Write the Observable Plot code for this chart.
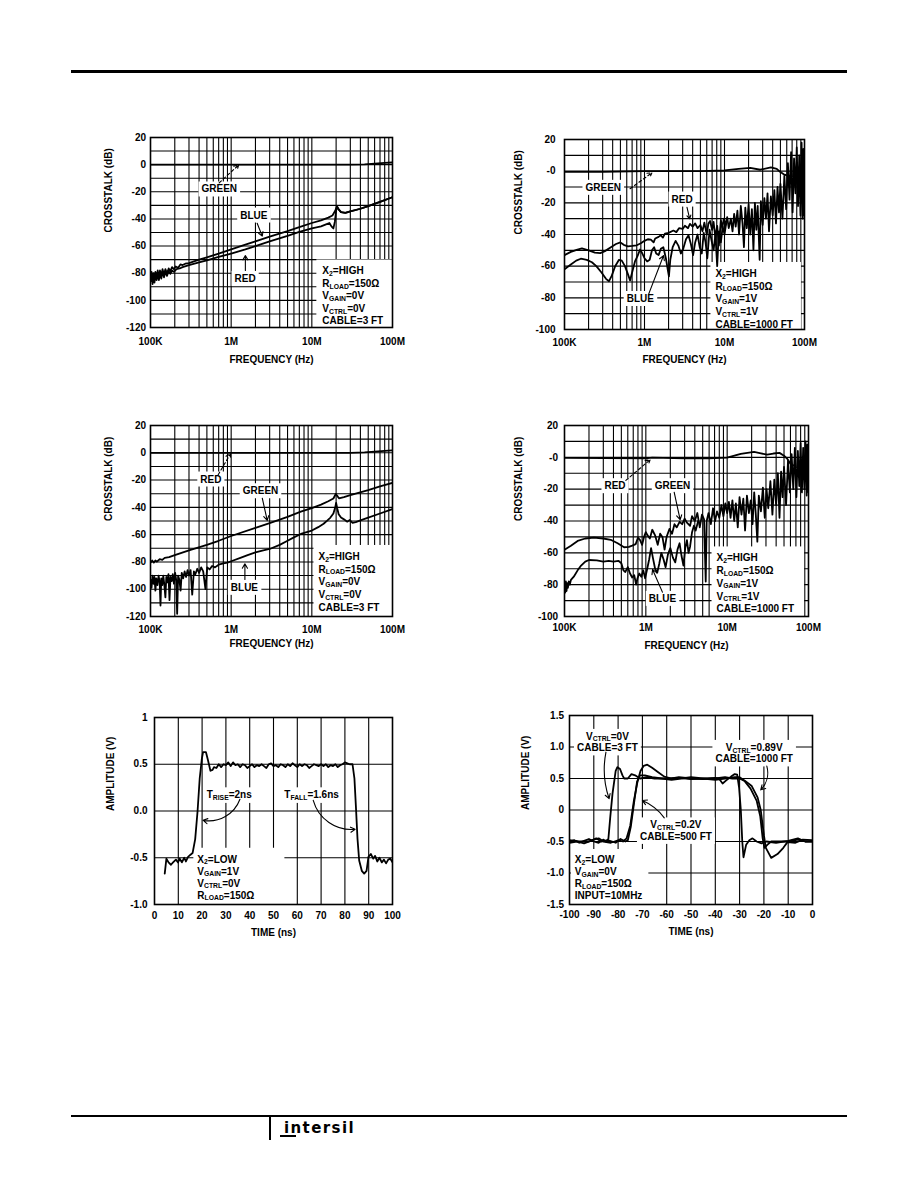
<!DOCTYPE html>
<html><head><meta charset="utf-8">
<script src="https://cdn.jsdelivr.net/npm/d3@7"></script>
<script src="https://cdn.jsdelivr.net/npm/@observablehq/plot@0.6"></script>
<style>
body{margin:0;background:#fff;}
#page{position:relative;width:918px;height:1188px;background:#fff;overflow:hidden;font-family:"Liberation Sans",Arial,sans-serif;}
.hr{position:absolute;background:#000;}
#logo{position:absolute;left:284px;top:1119px;font:bold 15px "DejaVu Sans",sans-serif;letter-spacing:1.4px;color:#000;}
#logobar{position:absolute;left:280px;top:1135px;width:16px;height:2px;background:#000;}
</style></head>
<body><div id="page">
<div class="hr" style="left:71px;top:70px;width:776px;height:3px"></div>
<div class="hr" style="left:71px;top:1115px;width:776px;height:2px"></div>
<div class="hr" style="left:269px;top:1115px;width:2px;height:25px"></div>
<div id="logobar"></div>
<div id="logo">intersil</div>
</div>
<script>
// ---------- shared axis data ----------
const freqTicks = [1e5, 1e6, 1e7, 1e8];
const freqTickLabels = ["100K", "1M", "10M", "100M"];
const freqGrid = [2e5,3e5,4e5,5e5,6e5,7e5,8e5,9e5,1e6,2e6,3e6,4e6,5e6,6e6,7e6,8e6,9e6,1e7,2e7,3e7,4e7,5e7,6e7,7e7,8e7,9e7];
const dbTicksA = [20,0,-20,-40,-60,-80,-100,-120];
const dbTickLabelsA = ["20","0","-20","-40","-60","-80","-100","-120"];
const dbGridA = [10,0,-10,-20,-30,-40,-50,-60,-70,-80,-90,-100,-110];
const dbTicksB = [20,0,-20,-40,-60,-80,-100];
const dbTickLabelsB = ["20","-0","-20","-40","-60","-80","-100"];
const dbGridB = [10,0,-10,-20,-30,-40,-50,-60,-70,-80,-90];

// ---------- chart 1 (CABLE=3 FT, VGAIN=0V) ----------
const c1Green = [[1e5,0],[1e6,0],[1e7,0],[3e7,0],[4.5e7,0.2],[6e7,0.8],[8e7,1.3],[1e8,1.6]];
const c1Blue = [[1e5,-84],[1.03e5,-79],[1.06e5,-86],[1.09e5,-80],[1.12e5,-85],[1.15e5,-79],[1.19e5,-83],[1.23e5,-78],[1.27e5,-84],[1.31e5,-78],[1.36e5,-82],[1.41e5,-77],[1.47e5,-81],[1.53e5,-77],[1.6e5,-80],[1.68e5,-76.5],[1.76e5,-78.5],[1.85e5,-75.5],[1.95e5,-77],[2.05e5,-75],[2.2e5,-76],[2.35e5,-73.5],[2.5e5,-74],[2.7e5,-73],[3e5,-72.5],[4e5,-70],[5e5,-68.3],[7e5,-65.5],[1e6,-62.5],[1.5e6,-59],[2e6,-56.5],[3e6,-53],[5e6,-49],[7e6,-46],[1e7,-43],[1.3e7,-41],[1.6e7,-39],[1.8e7,-37.5],[1.95e7,-34],[2.05e7,-30.5],[2.15e7,-33],[2.3e7,-35],[2.6e7,-35.5],[3e7,-34.5],[4e7,-32.5],[5e7,-30.5],[7e7,-27.5],[1e8,-24]];
const c1Red = [[1e5,-86],[1.03e5,-81],[1.06e5,-88],[1.09e5,-82],[1.12e5,-87],[1.15e5,-81],[1.19e5,-85],[1.23e5,-80],[1.27e5,-85],[1.31e5,-80],[1.36e5,-84],[1.41e5,-79],[1.47e5,-83],[1.53e5,-79],[1.6e5,-82],[1.68e5,-78.5],[1.76e5,-80.5],[1.85e5,-78],[1.95e5,-79],[2.1e5,-77],[2.3e5,-76.5],[2.5e5,-75.5],[3e5,-74],[4e5,-72],[5e5,-70.5],[7e5,-68],[1e6,-65.5],[1.5e6,-62.5],[2e6,-60],[3e6,-56.5],[5e6,-52.5],[7e6,-49.5],[1e7,-47],[1.3e7,-45.5],[1.5e7,-44],[1.65e7,-43],[1.75e7,-45.5],[1.85e7,-47],[1.93e7,-42],[2e7,-34],[2.05e7,-31],[2.15e7,-33],[2.3e7,-35],[2.6e7,-35.5],[3e7,-34.5],[4e7,-32.5],[5e7,-30.5],[7e7,-27.5],[1e8,-24]];
const c1Notes = [{x:7.13e5,y:-17.8,t:"GREEN"},{x:1.91e6,y:-37,t:"BLUE"},{x:1.49e6,y:-83.7,t:"RED"}];
const c1Legend = [{x:1.35e7,y:-96.4,t:"X_{2}=HIGH\nR_{LOAD}=150Ω\nV_{GAIN}=0V\nV_{CTRL}=0V\nCABLE=3 FT"}];
const c1Arrows = [{x1:7.1e5,y1:-13.4,x2:1.24e6,y2:-0.3},{x1:2.1e6,y1:-43.2,x2:2.43e6,y2:-52.7},{x1:1.5e6,y1:-78,x2:1.5e6,y2:-67}];

// ---------- chart 2 (CABLE=1000 FT, VGAIN=1V) ----------
const c2Green = [[1e5,-0.5],[3e5,-0.5],[1e6,0],[5e6,0],[1e7,0.5],[1.5e7,1.5],[2.1e7,2.1],[2.8e7,0.9],[3.8e7,2.4],[4.5e7,1.5],[5e7,-0.6],[5.5e7,-2],[6e7,-2.7],[6.5e7,-3]];
const c2Red = [[1e5,-53],[1.2e5,-51],[1.45e5,-49.5],[1.65e5,-48.8],[2e5,-50],[2.4e5,-51.5],[2.8e5,-51.8],[3.2e5,-50.5],[3.8e5,-48],[4.4e5,-46],[5e5,-45],[5.5e5,-46.5],[6.2e5,-47.5],[7e5,-47.2],[8e5,-46.8],[9e5,-45.5],[1e6,-44],[1.1e6,-43],[1.2e6,-43.2],[1.3e6,-45],[1.36e6,-42.5],[1.5e6,-41.5],[1.6e6,-40.5],[1.7e6,-42],[1.8e6,-39.5],[2e6,-39],[2.3e6,-37.5],[2.5e6,-38.5],[2.7e6,-36],[3e6,-36.5],[3.2e6,-34.5],[3.5e6,-36],[3.7e6,-33.3],[4e6,-35],[4.3e6,-33],[4.6e6,-36],[5e6,-34],[5.3e6,-38],[5.6e6,-32.5],[6e6,-40],[6.3e6,-33],[6.6e6,-31.5],[7e6,-37],[7.3e6,-32],[7.7e6,-42],[8.1e6,-34.5],[8.5e6,-47],[9e6,-31],[9.4e6,-36],[9.8e6,-30],[1.03e7,-34],[1.08e7,-29],[1.13e7,-36],[1.2e7,-30],[1.26e7,-38],[1.32e7,-27],[1.38e7,-35],[1.45e7,-25],[1.52e7,-40],[1.6e7,-22],[1.68e7,-33],[1.75e7,-48],[1.82e7,-23],[1.9e7,-36],[2e7,-21],[2.1e7,-40],[2.2e7,-24],[2.3e7,-50],[2.4e7,-20],[2.5e7,-37],[2.6e7,-22],[2.75e7,-56],[2.85e7,-19],[3e7,-34],[3.15e7,-17],[3.3e7,-30],[3.45e7,-14],[3.6e7,-38],[3.8e7,-16],[4e7,-28],[4.2e7,-12],[4.4e7,-33],[4.6e7,-10],[4.8e7,-26],[5e7,-8],[5.3e7,-30],[5.6e7,-3],[5.9e7,-24],[6.2e7,5],[6.5e7,-18],[6.8e7,12],[7.1e7,-26],[7.4e7,8],[7.7e7,-14],[8e7,15],[8.3e7,-22],[8.6e7,10],[8.9e7,-28],[9.2e7,18],[9.5e7,-30],[9.7e7,14],[1e8,-28]];
const c2Blue = [[1e5,-62],[1.2e5,-59],[1.4e5,-56.5],[1.6e5,-55.3],[1.9e5,-56],[2.2e5,-57.5],[2.5e5,-60],[2.9e5,-64],[3.3e5,-68],[3.6e5,-69.5],[3.9e5,-66],[4.3e5,-60],[4.8e5,-56],[5.2e5,-56.5],[5.7e5,-60],[6.2e5,-65],[6.6e5,-69],[7e5,-64],[7.6e5,-57],[8.2e5,-53.5],[8.8e5,-49.5],[9.4e5,-52],[1e6,-55],[1.08e6,-57],[1.16e6,-56],[1.24e6,-50],[1.32e6,-48],[1.4e6,-52],[1.5e6,-53],[1.6e6,-49],[1.72e6,-48],[1.85e6,-55],[1.95e6,-62],[2.02e6,-66.5],[2.1e6,-56],[2.25e6,-48],[2.45e6,-44],[2.65e6,-47],[2.85e6,-52],[3.05e6,-49],[3.3e6,-43],[3.55e6,-40.5],[3.8e6,-46],[4.05e6,-53],[4.3e6,-45],[4.6e6,-40],[4.9e6,-48],[5.2e6,-52],[5.5e6,-39],[5.8e6,-45],[6.1e6,-55],[6.5e6,-37],[6.9e6,-44],[7.3e6,-50],[7.7e6,-40],[8.1e6,-60],[8.5e6,-38],[9e6,-45],[9.5e6,-35],[1e7,-40],[1.05e7,-33]];
const c2Notes = [{x:3.05e5,y:-10.1,t:"GREEN"},{x:2.95e6,y:-17.5,t:"RED"},{x:8.86e5,y:-80.3,t:"BLUE"}];
const c2Legend = [{x:7.7e6,y:-80.3,t:"X_{2}=HIGH\nR_{LOAD}=150Ω\nV_{GAIN}=1V\nV_{CTRL}=1V\nCABLE=1000 FT"}];
const c2Arrows = [{x1:6.6e5,y1:-11.1,x2:1.24e6,y2:-1},{x1:3.4e6,y1:-22.8,x2:3.67e6,y2:-30.1},{x1:1.13e6,y1:-77.5,x2:1.73e6,y2:-53.3}];

// ---------- chart 3 (CABLE=3 FT, VGAIN=0V) ----------
const c3Red = [[1e5,0],[1e6,0],[1e7,0],[3e7,0],[4.5e7,0.3],[6e7,0.9],[8e7,1.4],[1e8,1.8]];
const c3Green = [[1e5,-80.5],[1.05e5,-79],[1.1e5,-80.5],[1.15e5,-79],[1.2e5,-79.8],[1.3e5,-78],[1.4e5,-78.5],[1.5e5,-77],[1.7e5,-76.5],[2e5,-75],[3e5,-71.5],[5e5,-67.5],[7e5,-64.5],[1e6,-61],[2e6,-55],[3e6,-51.5],[5e6,-47],[7.3e6,-43.1],[1e7,-40.5],[1.3e7,-38],[1.6e7,-35.5],[1.85e7,-33.5],[1.98e7,-30.2],[2.08e7,-31.8],[2.17e7,-33.4],[2.5e7,-32.5],[3e7,-31],[5e7,-27.3],[7e7,-24.6],[1e8,-22]];
const c3Blue = [[1e5,-93],[1.03e5,-99],[1.06e5,-90],[1.09e5,-96],[1.12e5,-91],[1.15e5,-101],[1.18e5,-92],[1.22e5,-97],[1.26e5,-90],[1.3e5,-95],[1.33e5,-112],[1.36e5,-92],[1.4e5,-97],[1.44e5,-90],[1.48e5,-96],[1.53e5,-106],[1.57e5,-91],[1.62e5,-95],[1.67e5,-89],[1.72e5,-108],[1.77e5,-91],[1.83e5,-94],[1.89e5,-89],[1.95e5,-96],[2.02e5,-88],[2.08e5,-93],[2.14e5,-118],[2.2e5,-90],[2.28e5,-93],[2.36e5,-101],[2.44e5,-88],[2.54e5,-92],[2.65e5,-87],[2.76e5,-91],[2.88e5,-86],[3e5,-90],[3.14e5,-86],[3.29e5,-104],[3.45e5,-87],[3.6e5,-89],[3.8e5,-85],[4e5,-88],[4.25e5,-84],[4.5e5,-87],[4.8e5,-100],[5.05e5,-84],[5.4e5,-85.5],[5.8e5,-83],[6.3e5,-84],[7e5,-82],[8e5,-81],[9e5,-80.5],[1e6,-79.5],[1.3e6,-77],[1.6e6,-75],[2e6,-73],[2.5e6,-71.5],[3e6,-70.5],[4e6,-67.5],[5e6,-64.5],[6e6,-62],[7.3e6,-59.5],[1e7,-57],[1.2e7,-54.5],[1.4e7,-52],[1.55e7,-49.7],[1.7e7,-47.5],[1.85e7,-44.5],[1.95e7,-40],[2e7,-36.8],[2.07e7,-41],[2.15e7,-45],[2.3e7,-47.5],[2.5e7,-48.8],[2.75e7,-50.5],[2.95e7,-49.3],[3.2e7,-51.4],[3.5e7,-50.8],[4e7,-49.5],[5e7,-47.5],[7e7,-44.5],[1e8,-41.2]];
const c3Notes = [{x:5.6e5,y:-19.1,t:"RED"},{x:2.31e6,y:-27.7,t:"GREEN"},{x:1.46e6,y:-98.5,t:"BLUE"}];
const c3Legend = [{x:1.21e7,y:-94.2,t:"X_{2}=HIGH\nR_{LOAD}=150Ω\nV_{GAIN}=0V\nV_{CTRL}=0V\nCABLE=3 FT"}];
const c3Arrows = [{x1:6.9e5,y1:-16.1,x2:9.8e5,y2:-0.7},{x1:2.43e6,y1:-33.3,x2:2.8e6,y2:-49.6},{x1:1.48e6,y1:-92.9,x2:1.48e6,y2:-81.4}];

// ---------- chart 4 (CABLE=1000 FT, VGAIN=1V) ----------
const c4Red = [[1e5,-0.3],[3e5,-0.5],[1e6,-0.6],[1.2e6,-0.2],[3e6,-0.6],[6e6,-0.6],[1e7,-0.2],[1.47e7,2.2],[2.14e7,3.4],[2.6e7,2.5],[3.1e7,1.7],[3.7e7,2.4],[4.4e7,2.8],[5e7,1],[5.5e7,-1],[6e7,-4],[6.5e7,-5]];
const c4Green = [[1e5,-58],[1.2e5,-55.5],[1.45e5,-52.5],[1.8e5,-51],[2.3e5,-50.5],[3e5,-51],[3.7e5,-51.8],[4.5e5,-54],[5.4e5,-56.5],[6.2e5,-56.3],[6.8e5,-55.5],[7.5e5,-54.5],[8e5,-50.5],[8.5e5,-52],[9e5,-55],[9.5e5,-50],[1e6,-47],[1.05e6,-49],[1.12e6,-51],[1.2e6,-45.5],[1.3e6,-49],[1.4e6,-55],[1.5e6,-48],[1.6e6,-50],[1.7e6,-58],[1.8e6,-50],[1.95e6,-45],[2.1e6,-48],[2.25e6,-42],[2.4e6,-44],[2.6e6,-40.5],[2.8e6,-42],[3e6,-38.5],[3.2e6,-41],[3.5e6,-43],[3.7e6,-37],[4e6,-40],[4.3e6,-35],[4.6e6,-44],[4.9e6,-36],[5.2e6,-39],[5.45e6,-78],[5.6e6,-40],[5.9e6,-35],[6.3e6,-42],[6.7e6,-32],[7.1e6,-40],[7.5e6,-34],[8e6,-38],[8.5e6,-30],[9e6,-37],[9.5e6,-29],[1e7,-35],[1.05e7,-28],[1.1e7,-38],[1.16e7,-27],[1.22e7,-40],[1.28e7,-29],[1.35e7,-44],[1.42e7,-25],[1.5e7,-36],[1.58e7,-26],[1.66e7,-46],[1.75e7,-24],[1.85e7,-35],[1.95e7,-27],[2.05e7,-42],[2.15e7,-22],[2.25e7,-36],[2.35e7,-53],[2.45e7,-24],[2.6e7,-34],[2.75e7,-19],[2.9e7,-38],[3.05e7,-20],[3.2e7,-32],[3.4e7,-15],[3.6e7,-36],[3.8e7,-14],[4e7,-30],[4.2e7,-10],[4.4e7,-38],[4.6e7,-9],[4.8e7,-25],[5e7,-6],[5.3e7,-30],[5.6e7,-2],[5.9e7,-22],[6.2e7,2],[6.5e7,-20],[6.8e7,6],[7.1e7,-25],[7.4e7,4],[7.7e7,-18],[8e7,9],[8.3e7,-22],[8.6e7,6],[8.9e7,-20],[9.2e7,10],[9.5e7,-24],[9.7e7,8],[1e8,-22]];
const c4Blue = [[1e5,-80],[1.02e5,-85],[1.04e5,-78],[1.06e5,-84],[1.08e5,-79],[1.1e5,-82],[1.13e5,-78],[1.16e5,-80],[1.2e5,-77],[1.3e5,-75],[1.45e5,-71],[1.6e5,-68],[1.8e5,-65.5],[2e5,-64.5],[2.5e5,-64.8],[3e5,-65.5],[3.5e5,-65],[4e5,-65.5],[4.6e5,-65],[5e5,-66.5],[5.3e5,-71],[5.6e5,-72],[6e5,-69],[6.4e5,-73],[6.8e5,-75.5],[7.2e5,-74],[7.6e5,-80],[7.9e5,-76],[8.3e5,-73],[8.8e5,-75],[9.3e5,-71],[9.8e5,-76],[1.04e6,-70],[1.1e6,-64],[1.16e6,-57],[1.22e6,-63],[1.3e6,-70],[1.38e6,-72.5],[1.46e6,-67],[1.55e6,-60],[1.65e6,-64],[1.75e6,-69],[1.87e6,-61],[2e6,-57],[2.15e6,-63],[2.3e6,-66],[2.45e6,-58],[2.6e6,-54],[2.75e6,-62],[2.9e6,-68],[3.05e6,-57],[3.2e6,-52],[3.35e6,-60],[3.5e6,-56],[3.7e6,-47],[3.9e6,-43],[4.1e6,-46],[4.4e6,-40]];
const c4Notes = [{x:4.18e5,y:-17.7,t:"RED"},{x:2.13e6,y:-17.7,t:"GREEN"},{x:1.6e6,y:-88.5,t:"BLUE"}];
const c4Legend = [{x:7.4e6,y:-78.8,t:"X_{2}=HIGH\nR_{LOAD}=150Ω\nV_{GAIN}=1V\nV_{CTRL}=1V\nCABLE=1000 FT"}];
const c4Arrows = [{x1:5.68e5,y1:-14.5,x2:1.13e6,y2:-1.5},{x1:2.23e6,y1:-21.9,x2:2.64e6,y2:-39.2},{x1:1.6e6,y1:-84.7,x2:1.21e6,y2:-70.5}];

// ---------- chart 5 (pulse, 0..100 ns) ----------
const c5TimeTicks = [0,10,20,30,40,50,60,70,80,90,100];
const c5TimeLabels = ["0","10","20","30","40","50","60","70","80","90","100"];
const c5GridX = [10,20,30,40,50,60,70,80,90];
const c5AmpTicks = [1,0.5,0,-0.5,-1];
const c5AmpLabels = ["1","0.5","0.0","-0.5","-1.0"];
const c5GridY = [0.5,0,-0.5];
const c5Wave = [[4.3,-0.67],[5,-0.51],[5.9,-0.55],[6.9,-0.575],[7.8,-0.55],[9,-0.52],[9.9,-0.55],[10.6,-0.51],[11.5,-0.55],[12.5,-0.5],[13.2,-0.54],[14.1,-0.49],[15,-0.47],[16,-0.45],[17.1,-0.3],[18.1,0],[19,0.35],[19.9,0.56],[20.4,0.63],[21.6,0.63],[22.5,0.54],[23.5,0.43],[24.4,0.44],[25,0.47],[26,0.46],[27,0.5],[28,0.47],[29,0.5],[30,0.49],[31,0.52],[32,0.48],[33,0.52],[34,0.49],[35,0.5],[36,0.47],[37,0.5],[38,0.49],[39,0.46],[40,0.48],[41,0.5],[42,0.47],[43,0.49],[44,0.48],[45,0.5],[46,0.48],[47,0.46],[48,0.5],[49,0.51],[50,0.48],[51,0.49],[52,0.47],[53,0.5],[54,0.49],[55,0.47],[56,0.5],[57,0.48],[58,0.51],[59,0.49],[60,0.47],[61,0.5],[62,0.48],[63,0.5],[64,0.49],[65,0.46],[66,0.48],[67,0.5],[68,0.49],[69,0.48],[70,0.5],[71,0.48],[72,0.5],[73,0.47],[74,0.49],[75,0.48],[76,0.5],[77,0.47],[78,0.49],[79,0.5],[80,0.52],[81,0.51],[82,0.5],[83.2,0.5],[84,0.35],[84.6,0.06],[85.3,-0.3],[86,-0.53],[87.1,-0.64],[88.1,-0.67],[89.1,-0.64],[89.9,-0.49],[90.9,-0.46],[91.9,-0.51],[92.7,-0.48],[93.6,-0.54],[94.5,-0.5],[95.5,-0.55],[96.4,-0.52],[97.3,-0.56],[98.2,-0.52],[99.1,-0.51],[100,-0.55]];
const c5Notes = [{x:31.4,y:0.175,t:"T_{RISE}=2ns"},{x:66,y:0.175,t:"T_{FALL}=1.6ns"}];
const c5Legend = [{x:18,y:-0.705,t:"X_{2}=LOW\nV_{GAIN}=1V\nV_{CTRL}=0V\nR_{LOAD}=150Ω"}];
const c5Arrows = [{x1:35.9,y1:0.125,x2:20.4,y2:-0.1},{x1:66.7,y1:0.114,x2:84.3,y2:-0.196}];

// ---------- chart 6 (pulse, -100..0 ns) ----------
const c6TimeTicks = [-100,-90,-80,-70,-60,-50,-40,-30,-20,-10,0];
const c6TimeLabels = ["-100","-90","-80","-70","-60","-50","-40","-30","-20","-10","0"];
const c6GridX = [-90,-80,-70,-60,-50,-40,-30,-20,-10];
const c6AmpTicks = [1.5,1,0.5,0,-0.5,-1,-1.5];
const c6AmpLabels = ["1.5","1.0","0.5","0","-0.5","-1.0","-1.5"];
const c6GridY = [1,0.5,0,-0.5,-1];
const c6Cable3 = [[-100,-0.5],[-98,-0.48],[-96,-0.52],[-94,-0.49],[-92,-0.46],[-90,-0.5],[-88,-0.52],[-86,-0.47],[-85,-0.5],[-84,-0.46],[-83.2,-0.1],[-82.3,0.26],[-81,0.62],[-80.3,0.68],[-79.2,0.65],[-78.2,0.55],[-77.5,0.5],[-76,0.5],[-74.5,0.57],[-73,0.55],[-71,0.5],[-68,0.52],[-65,0.5],[-60,0.5],[-55,0.51],[-50,0.49],[-45,0.5],[-40,0.51],[-38.5,0.5],[-37,0.42],[-35.5,0.47],[-33.5,0.53],[-32,0.57],[-31,0.56],[-30.2,0.35],[-29.5,0],[-28.9,-0.5],[-28.4,-0.75],[-27.3,-0.55],[-26,-0.48],[-24.7,-0.45],[-23,-0.5],[-21,-0.53],[-19,-0.5],[-15,-0.52],[-10,-0.49],[-6,-0.45],[-3,-0.5],[0,-0.5]];
const c6Cable500 = [[-100,-0.52],[-97,-0.5],[-94,-0.53],[-90,-0.47],[-88,-0.45],[-86,-0.5],[-83,-0.52],[-80,-0.48],[-78,-0.5],[-76.5,-0.45],[-75,-0.25],[-73.5,0.15],[-72,0.45],[-70.8,0.62],[-69.5,0.7],[-68,0.72],[-66,0.67],[-63.5,0.6],[-61,0.53],[-58,0.5],[-55,0.52],[-50,0.5],[-45,0.49],[-40,0.5],[-36,0.52],[-33,0.5],[-30,0.5],[-28,0.46],[-25.5,0.34],[-23,0.15],[-21.5,-0.1],[-20.5,-0.45],[-19.8,-0.6],[-18.5,-0.55],[-17,-0.5],[-14,-0.5],[-10,-0.5],[-6,-0.47],[-3,-0.5],[0,-0.5]];
const c6Cable1000 = [[-100,-0.48],[-96,-0.5],[-92,-0.5],[-89,-0.45],[-87,-0.5],[-84,-0.48],[-81,-0.52],[-79,-0.46],[-77,-0.5],[-76,-0.48],[-74.8,-0.27],[-73.4,0.12],[-72.2,0.45],[-71,0.55],[-69,0.55],[-66,0.52],[-62,0.5],[-58,0.48],[-54,0.5],[-50,0.52],[-45,0.5],[-40,0.48],[-36,0.5],[-32,0.52],[-30,0.52],[-28,0.47],[-25,0.38],[-22.6,0.2],[-21.3,0],[-20,-0.4],[-19.2,-0.6],[-17,-0.76],[-14.4,-0.7],[-12,-0.6],[-10.3,-0.51],[-7,-0.52],[-4,-0.47],[0,-0.48]];
const c6Notes = [{x:-84.4,y:1.08,t:"V_{CTRL}=0V\nCABLE=3 FT"},{x:-24,y:0.905,t:"V_{CTRL}=0.89V\nCABLE=1000 FT"},{x:-56.2,y:-0.325,t:"V_{CTRL}=0.2V\nCABLE=500 FT"}];
const c6Legend = [{x:-97.8,y:-1.066,t:"X_{2}=LOW\nV_{GAIN}=0V\nR_{LOAD}=150Ω\nINPUT=10MHz"}];
const c6Arrows = [{x1:-85,y1:0.918,x2:-83.7,y2:0.18},{x1:-18.8,y1:0.696,x2:-21.3,y2:0.32},{x1:-61,y1:-0.124,x2:-70,y2:0.15}];

// ---------- rendering ----------
const NS = "http://www.w3.org/2000/svg";
const page = document.getElementById("page");
const FONT = "'Liberation Sans', Arial, Helvetica, sans-serif";

function labeler(ticks, labels) {
  return d => { const i = ticks.indexOf(d); return i < 0 ? "" : labels[i]; };
}

function postProcess(svg, boxPad) {
  // subscripts written as _{...}
  svg.querySelectorAll("text, tspan").forEach(el => {
    Array.from(el.childNodes).forEach(node => {
      if (node.nodeType !== 3 || !node.data.includes("_{")) return;
      const parts = node.data.split(/(_\{[^}]*\})/);
      const frag = document.createDocumentFragment();
      let sub = false;
      for (const p of parts) {
        if (!p) continue;
        const ts = document.createElementNS(NS, "tspan");
        if (p.startsWith("_{")) {
          ts.textContent = p.slice(2, -1);
          ts.style.fontSize = "0.68em";
          ts.setAttribute("dy", "1.6");
          sub = true;
        } else {
          ts.textContent = p;
          if (sub) { ts.setAttribute("dy", "-1.6"); sub = false; }
        }
        frag.appendChild(ts);
      }
      el.replaceChild(frag, node);
    });
  });
  // white boxes behind annotation text
  const pads = {note: {l: 3, r: 3, t: 2, b: 2}, box: boxPad};
  Object.keys(pads).forEach(label => {
    const p = pads[label];
    svg.querySelectorAll(`g[aria-description="${label}"] text`).forEach(t => {
      if (t.parentNode.tagName.toLowerCase() !== "g") return;
      const b = t.getBBox();
      const r = document.createElementNS(NS, "rect");
      r.setAttribute("x", b.x - p.l);
      r.setAttribute("y", b.y - p.t);
      r.setAttribute("width", b.width + p.l + p.r);
      r.setAttribute("height", b.height + p.t + p.b);
      r.setAttribute("fill", "#fff");
      r.setAttribute("stroke", "none");
      const tr = t.getAttribute("transform");
      if (tr) r.setAttribute("transform", tr);
      t.parentNode.insertBefore(r, t);
    });
  });
}

function drawChart(cfg) {
  const {L, T, R, B} = cfg.frame;
  const mL = 70, mT = 15, mR = 20, mB = 50;
  const width = R - L + mL + mR, height = B - T + mT + mB;
  const line = s => Plot.line(s, {x: d => d[0], y: d => d[1], stroke: "#000", strokeWidth: 1.8, strokeLinejoin: "round", clip: true});
  const arrow = a => {
    const o = {x1: "x1", y1: "y1", x2: "x2", y2: "y2", stroke: "#000", strokeWidth: 1.1, headLength: 7, bend: a.bend || 0};
    if (a.dash) o.strokeDasharray = "3,2.5";
    return Plot.arrow([a.d], o);
  };
  const svg = Plot.plot({
    width, height,
    marginLeft: mL, marginTop: mT, marginRight: mR, marginBottom: mB,
    style: {fontFamily: FONT, fontSize: "10px", fontWeight: "bold", color: "#000", background: "transparent", overflow: "visible"},
    x: Object.assign({}, cfg.x, {tickSize: 0, tickPadding: cfg.padX, label: null, tickFormat: labeler(cfg.x.ticks, cfg.xLabels)}),
    y: Object.assign({}, cfg.y, {tickSize: 0, tickPadding: cfg.padY, label: null, tickFormat: labeler(cfg.y.ticks, cfg.yLabels)}),
    marks: [
      Plot.ruleX(cfg.gridX, {stroke: "#000", strokeWidth: 1.1}),
      Plot.ruleY(cfg.gridY, {stroke: "#000", strokeWidth: 1.1}),
      Plot.text(cfg.notes, {x: "x", y: "y", text: "t", lineHeight: 1.15, ariaDescription: "note"}),
      Plot.text(cfg.legend, {x: "x", y: "y", text: "t", textAnchor: "start", lineHeight: cfg.legendLH, ariaDescription: "box"}),
      ...cfg.series.map(line),
      ...cfg.arrows.map(arrow),
      Plot.frame({stroke: "#000", strokeWidth: 1.6}),
      Plot.text([cfg.xTitle], {text: d => d, frameAnchor: "bottom", dy: cfg.xTitleDy}),
      Plot.text([cfg.yTitle], {text: d => d, frameAnchor: "left", dx: cfg.yTitleDx, rotate: -90})
    ]
  });
  svg.style.position = "absolute";
  svg.style.left = (L - mL) + "px";
  svg.style.top = (T - mT) + "px";
  page.appendChild(svg);
  postProcess(svg, cfg.boxPad);
}

const logX = {type: "log", domain: [1e5, 1e8], ticks: freqTicks};

drawChart({frame: {L:150, T:137, R:392, B:327}, x: logX, xLabels: freqTickLabels,
  y: {domain: [-120, 20], ticks: dbTicksA}, yLabels: dbTickLabelsA, gridX: freqGrid, gridY: dbGridA,
  padX: 10, padY: 4.5, series: [c1Green, c1Blue, c1Red], notes: c1Notes, legend: c1Legend, legendLH: 1.25,
  boxPad: {l: 6, r: 14, t: 6, b: 4},
  arrows: [{d: c1Arrows[0], dash: true}, {d: c1Arrows[1]}, {d: c1Arrows[2]}],
  xTitle: "FREQUENCY (Hz)", xTitleDy: 35, yTitle: "CROSSTALK (dB)", yTitleDx: -42});

drawChart({frame: {L:564, T:139, R:804, B:329}, x: logX, xLabels: freqTickLabels,
  y: {domain: [-100, 20], ticks: dbTicksB}, yLabels: dbTickLabelsB, gridX: freqGrid, gridY: dbGridB,
  padX: 9, padY: 9, series: [c2Green, c2Red, c2Blue], notes: c2Notes, legend: c2Legend, legendLH: 1.27,
  boxPad: {l: 5, r: 8, t: 6, b: 4},
  arrows: [{d: c2Arrows[0], dash: true}, {d: c2Arrows[1]}, {d: c2Arrows[2]}],
  xTitle: "FREQUENCY (Hz)", xTitleDy: 33, yTitle: "CROSSTALK (dB)", yTitleDx: -46});

drawChart({frame: {L:150, T:425, R:392, B:616}, x: logX, xLabels: freqTickLabels,
  y: {domain: [-120, 20], ticks: dbTicksA}, yLabels: dbTickLabelsA, gridX: freqGrid, gridY: dbGridA,
  padX: 9, padY: 4.5, series: [c3Red, c3Green, c3Blue], notes: c3Notes, legend: c3Legend, legendLH: 1.27,
  boxPad: {l: 5, r: 14, t: 6, b: 4},
  arrows: [{d: c3Arrows[0], dash: true}, {d: c3Arrows[1]}, {d: c3Arrows[2]}],
  xTitle: "FREQUENCY (Hz)", xTitleDy: 30, yTitle: "CROSSTALK (dB)", yTitleDx: -42});

drawChart({frame: {L:564, T:425, R:808, B:616}, x: logX, xLabels: freqTickLabels,
  y: {domain: [-100, 20], ticks: dbTicksB}, yLabels: dbTickLabelsB, gridX: freqGrid, gridY: dbGridB,
  padX: 7, padY: 6.5, series: [c4Red, c4Green, c4Blue], notes: c4Notes, legend: c4Legend, legendLH: 1.27,
  boxPad: {l: 5, r: 10, t: 6, b: 4},
  arrows: [{d: c4Arrows[0], dash: true}, {d: c4Arrows[1]}, {d: c4Arrows[2]}],
  xTitle: "FREQUENCY (Hz)", xTitleDy: 32, yTitle: "CROSSTALK (dB)", yTitleDx: -46});

drawChart({frame: {L:154, T:717, R:392, B:904}, x: {domain: [0, 100], ticks: c5TimeTicks}, xLabels: c5TimeLabels,
  y: {domain: [-1, 1], ticks: c5AmpTicks}, yLabels: c5AmpLabels, gridX: c5GridX, gridY: c5GridY,
  padX: 7.5, padY: 7, series: [c5Wave], notes: c5Notes, legend: c5Legend, legendLH: 1.2,
  boxPad: {l: 4, r: 30, t: 6, b: 4},
  arrows: [{d: c5Arrows[0], bend: 40}, {d: c5Arrows[1], bend: -40}],
  xTitle: "TIME (ns)", xTitleDy: 31, yTitle: "AMPLITUDE (V)", yTitleDx: -44});

drawChart({frame: {L:569, T:715, R:812, B:904}, x: {domain: [-100, 0], ticks: c6TimeTicks}, xLabels: c6TimeLabels,
  y: {domain: [-1.5, 1.5], ticks: c6AmpTicks}, yLabels: c6AmpLabels, gridX: c6GridX, gridY: c6GridY,
  padX: 6, padY: 5.5, series: [c6Cable3, c6Cable500, c6Cable1000], notes: c6Notes, legend: c6Legend, legendLH: 1.2,
  boxPad: {l: 4, r: 6, t: 5, b: 4},
  arrows: [{d: c6Arrows[0], bend: -15}, {d: c6Arrows[1], bend: 30}, {d: c6Arrows[2], bend: -15}],
  xTitle: "TIME (ns)", xTitleDy: 30, yTitle: "AMPLITUDE (V)", yTitleDx: -44});
</script>
</body></html>
